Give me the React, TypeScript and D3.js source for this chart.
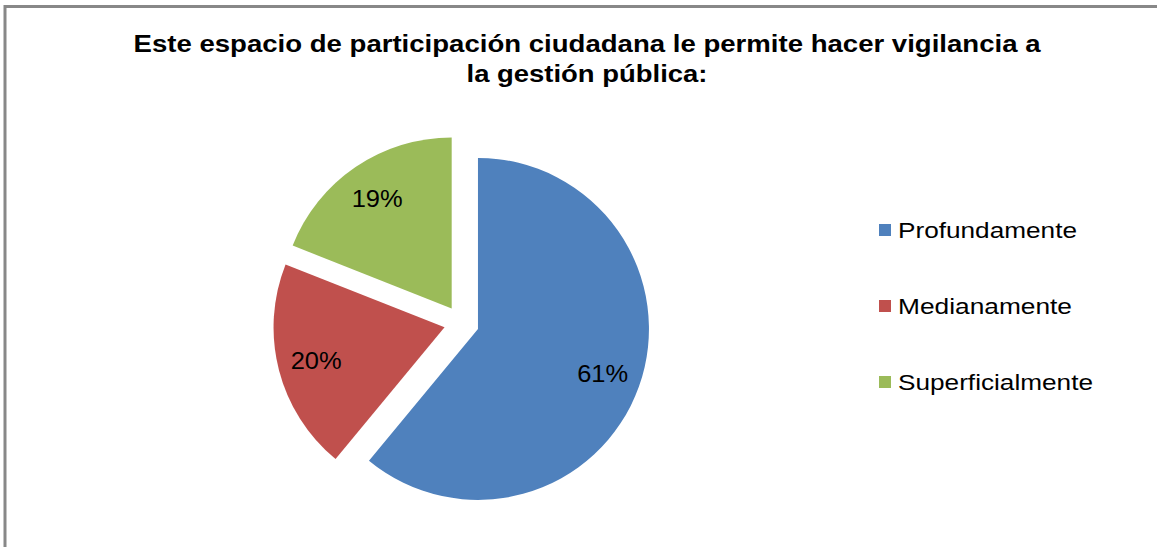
import React from "react";
import * as d3 from "d3";

const categories = ["Profundamente", "Medianamente", "Superficialmente"];
const values = [61, 20, 19];
const labels = ["61%", "20%", "19%"];
const colors = ["#4F81BD", "#C0504D", "#9BBB59"];
const titleLines = [
  "Este espacio de participación ciudadana le permite hacer vigilancia a",
  "la gestión pública:",
];

export default function App() {
  const W = 1157;
  const H = 547;
  const cx = 461.5;
  const cy = 323;
  const r = 171;
  const explode = 17.5;

  const pie = d3.pie<number>().sort(null).startAngle(0).endAngle(2 * Math.PI);
  const arcs = pie(values);
  const arcGen = d3.arc<d3.PieArcDatum<number>>().innerRadius(0).outerRadius(r);
  const labelArc = d3
    .arc<d3.PieArcDatum<number>>()
    .innerRadius(r * 0.775)
    .outerRadius(r * 0.775);

  const legendY = d3.scalePoint<string>().domain(categories).range([230, 382]);

  const titleWidths = [907, 241];
  const titleBaselines = [52, 82];

  return (
    <svg
      width={W}
      height={H}
      style={{ position: "absolute", left: 0, top: 0, background: "#fff" }}
      fontFamily="'Liberation Sans', Arial, sans-serif"
    >
      <rect x={0} y={0} width={W} height={H} fill="#fff" />
      <rect x={5} y={6.5} width={1300} height={700} fill="none" stroke="#888" strokeWidth={3} />
      {titleLines.map((t, i) => (
        <text
          key={i}
          x={587}
          y={titleBaselines[i]}
          textAnchor="middle"
          fontSize={23}
          fontWeight="bold"
          fill="#000"
          textLength={titleWidths[i]}
          lengthAdjust="spacingAndGlyphs"
        >
          {t}
        </text>
      ))}
      {arcs.map((a, i) => {
        const mid = (a.startAngle + a.endAngle) / 2;
        const dx = Math.sin(mid) * explode;
        const dy = -Math.cos(mid) * explode;
        const [lx, ly] = labelArc.centroid(a);
        return (
          <g key={i} transform={`translate(${cx + dx},${cy + dy})`}>
            <path d={arcGen(a) || ""} fill={colors[i]} />
            <text
              x={lx}
              y={ly + 8.5}
              textAnchor="middle"
              fontSize={23}
              fill="#000"
              textLength={51}
              lengthAdjust="spacingAndGlyphs"
            >
              {labels[i]}
            </text>
          </g>
        );
      })}
      {categories.map((c, i) => {
        const y = legendY(c) as number;
        const widths = [179, 174, 195];
        return (
          <g key={c}>
            <rect x={879} y={y - 6} width={12} height={12} fill={colors[i]} />
            <text
              x={898}
              y={y + 8}
              fontSize={22}
              fill="#000"
              textLength={widths[i]}
              lengthAdjust="spacingAndGlyphs"
            >
              {c}
            </text>
          </g>
        );
      })}
    </svg>
  );
}
